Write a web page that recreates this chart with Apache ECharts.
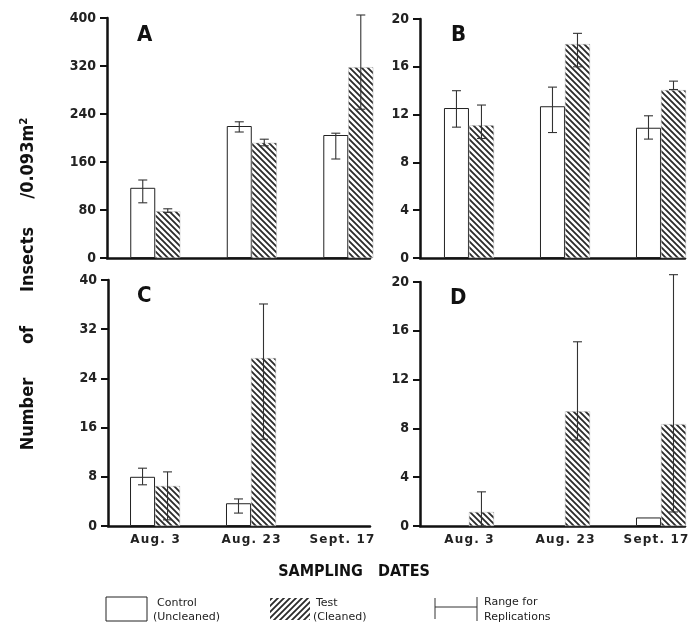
<!DOCTYPE html>
<html>
<head>
<meta charset="utf-8">
<script src="https://cdn.jsdelivr.net/npm/echarts@6/dist/echarts.min.js"></script>
<style>
html,body{margin:0;padding:0;background:#fff;}
#chart{width:690px;height:630px;}
</style>
</head>
<body>
<div id="chart"></div>
<script>
// ---- data ----
const dates = ['Aug. 3', 'Aug. 23', 'Sept. 17'];
const panelNames = ['A', 'B', 'C', 'D'];
const yMax = [400, 20, 40, 20];
const yInterval = [80, 4, 8, 4];

const A_control = [117, 220, 205];
const A_controlLow = [92, 210, 165];
const A_controlHigh = [130, 227, 208];
const A_test = [78, 192, 318];
const A_testLow = [76, 187, 248];
const A_testHigh = [82, 198, 405];

const B_control = [12.55, 12.7, 10.9];
const B_controlLow = [10.95, 10.5, 9.95];
const B_controlHigh = [14.0, 14.3, 11.9];
const B_test = [11.1, 17.9, 14.05];
const B_testLow = [10.0, 16.0, 14.1];
const B_testHigh = [12.8, 18.8, 14.8];

const C_control = [8.0, 3.7, null];
const C_controlLow = [6.7, 2.1, null];
const C_controlHigh = [9.4, 4.4, null];
const C_test = [6.5, 27.3, null];
const C_testLow = [1.0, 14.1, null];
const C_testHigh = [8.8, 36.1, null];

const D_control = [null, null, 0.7];
const D_controlLow = [null, null, null];
const D_controlHigh = [null, null, null];
const D_test = [1.15, 9.4, 8.35];
const D_testLow = [0, 7.05, 1.15];
const D_testHigh = [2.8, 15.1, 20.6];

// ---- layout ----
const grids = [
  {left: 107, top: 18, width: 263, height: 240, outerBoundsMode: 'none'},
  {left: 420, top: 19, width: 265, height: 239, outerBoundsMode: 'none'},
  {left: 108, top: 280, width: 262, height: 246, outerBoundsMode: 'none'},
  {left: 420, top: 282, width: 265, height: 244, outerBoundsMode: 'none'}
];
const xRange = [[0.5, 3.225], [0.49, 3.25], [0.51, 3.24], [0.49, 3.25]];
const BAR_W = 25;
const FONT = 'DejaVu Sans Condensed';

function makePattern(dir) {
  const s = 6;
  const c = document.createElement('canvas');
  c.width = s; c.height = s;
  const g = c.getContext('2d');
  g.fillStyle = '#fff';
  g.fillRect(0, 0, s, s);
  g.strokeStyle = '#2a2a2a';
  g.lineWidth = 1.8;
  g.beginPath();
  if (dir === 'back') {
    g.moveTo(-1, -1); g.lineTo(s + 1, s + 1);
    g.moveTo(-1, s - 1); g.lineTo(1, s + 1);
    g.moveTo(s - 1, -1); g.lineTo(s + 1, 1);
  } else {
    g.moveTo(-1, s + 1); g.lineTo(s + 1, -1);
    g.moveTo(-1, 1); g.lineTo(1, -1);
    g.moveTo(s - 1, s + 1); g.lineTo(s + 1, s - 1);
  }
  g.stroke();
  return c;
}
const hatchBack = {image: makePattern('back'), repeat: 'repeat'};
const hatchFwd = {image: makePattern('fwd'), repeat: 'repeat'};

const panels = [
  [A_control, A_controlLow, A_controlHigh, A_test, A_testLow, A_testHigh],
  [B_control, B_controlLow, B_controlHigh, B_test, B_testLow, B_testHigh],
  [C_control, C_controlLow, C_controlHigh, C_test, C_testLow, C_testHigh],
  [D_control, D_controlLow, D_controlHigh, D_test, D_testLow, D_testHigh]
];

function errRenderer(side) {
  return function (params, api) {
    const x = api.value(0), lo = api.value(1), hi = api.value(2);
    const pLo = api.coord([x, lo]);
    const pHi = api.coord([x, hi]);
    const cx = pLo[0] + side * BAR_W / 2;
    const cap = 4.5;
    const st = {stroke: '#333', lineWidth: 1.1};
    return {
      type: 'group',
      children: [
        {type: 'line', shape: {x1: cx, y1: pLo[1], x2: cx, y2: pHi[1]}, style: st},
        {type: 'line', shape: {x1: cx - cap, y1: pHi[1], x2: cx + cap, y2: pHi[1]}, style: st},
        {type: 'line', shape: {x1: cx - cap, y1: pLo[1], x2: cx + cap, y2: pLo[1]}, style: st}
      ]
    };
  };
}

function spaced(s) {
  return s.split('').join('\u200A');
}
const xLabelStyle = {fontFamily: 'DejaVu Sans', fontWeight: 'bold', fontSize: 12, color: '#222'};

const xAxes = [], yAxes = [], series = [], titles = [];
const titlePos = [[137, 24], [451, 24], [137, 285], [450, 287]];
panels.forEach((p, i) => {
  const showX = i >= 2;
  xAxes.push({
    gridIndex: i, type: 'value', min: xRange[i][0], max: xRange[i][1],
    splitLine: {show: false},
    axisLine: {show: true, onZero: false, lineStyle: {color: '#111', width: 2.5}},
    axisTick: {show: false},
    axisLabel: Object.assign({
      show: showX, customValues: [1, 2, 3],
      formatter: v => {
        const idx = Math.round(v) - 1;
        const t = spaced(dates[idx] || '');
        return idx === dates.length - 1 ? '{last|' + t + '}' : t;
      },
      margin: 8, hideOverlap: false,
      rich: {last: Object.assign({padding: [0, 10, 0, 0]}, xLabelStyle)}
    }, xLabelStyle)
  });
  yAxes.push({
    gridIndex: i, type: 'value', min: 0, max: yMax[i], interval: yInterval[i],
    splitLine: {show: false},
    axisLine: {show: true, onZero: false, lineStyle: {color: '#111', width: 2.5}},
    axisTick: {show: true, length: 7, lineStyle: {color: '#111', width: 2}},
    axisLabel: {fontFamily: FONT, fontWeight: 'bold', fontSize: 14, color: '#222', margin: 11}
  });
  const [ctl, ctlLo, ctlHi, tst, tstLo, tstHi] = p;
  series.push({
    name: 'Control (Uncleaned)', type: 'bar', xAxisIndex: i, yAxisIndex: i,
    barWidth: BAR_W, barGap: '0%',
    data: ctl.map((v, k) => [k + 1, v]).filter(d => d[1] !== null),
    itemStyle: {color: '#fff', borderColor: '#222', borderWidth: 1},
    silent: true
  });
  series.push({
    name: 'Test (Cleaned)', type: 'bar', xAxisIndex: i, yAxisIndex: i,
    barWidth: BAR_W, barGap: '0%',
    data: tst.map((v, k) => [k + 1, v]).filter(d => d[1] !== null),
    itemStyle: {color: hatchBack, borderColor: '#bbb', borderWidth: 0.5},
    silent: true
  });
  series.push({
    name: 'Range (control)', type: 'custom', xAxisIndex: i, yAxisIndex: i,
    clip: false, z: 5, silent: true,
    renderItem: errRenderer(-1),
    encode: {x: 0, y: [1, 2]},
    data: ctlLo.map((v, k) => [k + 1, v, ctlHi[k]]).filter(d => d[1] !== null)
  });
  series.push({
    name: 'Range (test)', type: 'custom', xAxisIndex: i, yAxisIndex: i,
    clip: false, z: 5, silent: true,
    renderItem: errRenderer(1),
    encode: {x: 0, y: [1, 2]},
    data: tstLo.map((v, k) => [k + 1, v, tstHi[k]]).filter(d => d[1] !== null)
  });
  titles.push({
    text: panelNames[i], left: titlePos[i][0], top: titlePos[i][1], padding: 0,
    textStyle: {fontFamily: FONT, fontWeight: 'bold', fontSize: 22, color: '#111'}
  });
});

const legendFont = {fontFamily: 'DejaVu Sans', fontSize: 11, fill: '#222'};
const option = {
  animation: false,
  backgroundColor: '#fff',
  title: titles,
  grid: grids,
  xAxis: xAxes,
  yAxis: yAxes,
  series: series,
  graphic: [
    {type: 'text', x: 28, y: 284, rotation: Math.PI / 2,
      style: {text: 'Number      of      Insects     /0.093m²', fontFamily: FONT, fontWeight: 'bold',
        fontSize: 18, fill: '#111', align: 'center', verticalAlign: 'middle'}},
    {type: 'text', x: 354, y: 572,
      style: {text: 'SAMPLING   DATES', fontFamily: FONT, fontWeight: 'bold',
        fontSize: 16, fill: '#111', align: 'center', verticalAlign: 'middle'}},
    {type: 'rect', shape: {x: 106, y: 597, width: 41, height: 24},
      style: {fill: '#fff', stroke: '#222', lineWidth: 1}},
    {type: 'text', x: 157, y: 598, style: Object.assign({text: 'Control'}, legendFont)},
    {type: 'text', x: 153, y: 612, style: Object.assign({text: '(Uncleaned)'}, legendFont)},
    {type: 'rect', shape: {x: 270, y: 598, width: 40, height: 22},
      style: {fill: hatchFwd, stroke: null}},
    {type: 'text', x: 316, y: 598, style: Object.assign({text: 'Test'}, legendFont)},
    {type: 'text', x: 313, y: 612, style: Object.assign({text: '(Cleaned)'}, legendFont)},
    {type: 'line', shape: {x1: 435, y1: 607, x2: 477, y2: 607}, style: {stroke: '#333', lineWidth: 1}},
    {type: 'line', shape: {x1: 435, y1: 598, x2: 435, y2: 619}, style: {stroke: '#333', lineWidth: 1}},
    {type: 'line', shape: {x1: 477, y1: 597, x2: 477, y2: 621}, style: {stroke: '#333', lineWidth: 1}},
    {type: 'text', x: 484, y: 597, style: Object.assign({text: 'Range for'}, legendFont)},
    {type: 'text', x: 484, y: 612, style: Object.assign({text: 'Replications'}, legendFont)}
  ]
};

const chart = echarts.init(document.getElementById('chart'), null, {renderer: 'canvas'});
chart.setOption(option);
</script>
</body>
</html>
